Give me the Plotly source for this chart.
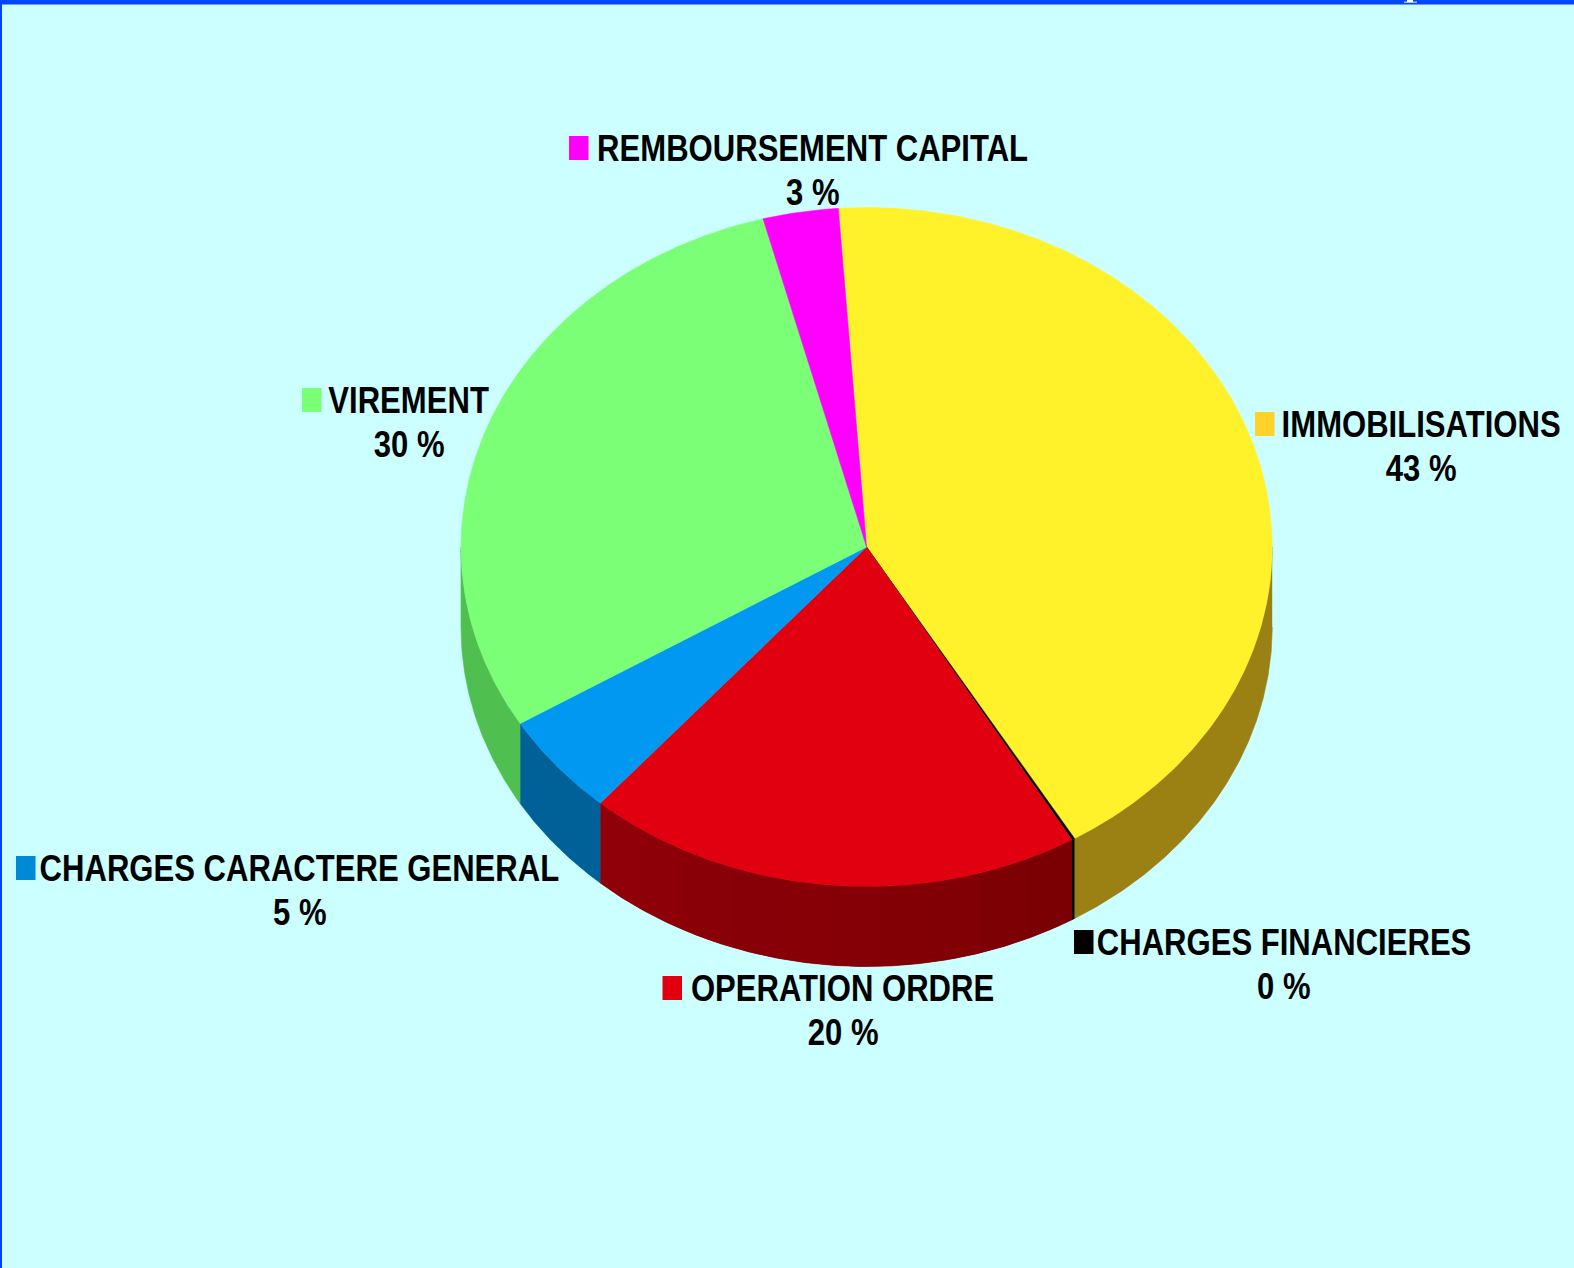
import numpy as np
import plotly.graph_objects as go

# ---- data (clockwise from the start angle) ----
categories = ["IMMOBILISATIONS", "CHARGES FINANCIERES", "OPERATION ORDRE",
              "CHARGES CARACTERE GENERAL", "VIREMENT", "REMBOURSEMENT CAPITAL"]
shares = [42.55, 0.12, 19.85, 4.9, 29.6, 3.0]
percent_labels = ["43 %", "0 %", "20 %", "5 %", "30 %", "3 %"]

# ---- styles ----
top_colors = ["#FFF22B", "#000000", "#E1000F", "#0098F0", "#7BFF77", "#FF00FF"]
# wall shading: colour at the clockwise start and end of each slice
wall_start = [(155, 128, 20), (0, 0, 0), (122, 0, 4), (0, 97, 153), (79, 191, 79), (153, 0, 153)]
wall_end = [(155, 128, 20), (0, 0, 0), (144, 0, 8), (0, 97, 153), (79, 191, 79), (153, 0, 153)]
key_colors = ["#FFD22A", "#000000", "#E1000F", "#0089D6", "#7BFF77", "#FF00FF"]
BG = "#CCFFFF"
BORDER = "#0045FF"
FONT = "Liberation Sans"
W, H = 1574, 1268

# ---- geometry of the tilted pie, in page pixels ----
CX, CY, RX, RY, DEPTH = 866.6, 547.0, 405.6, 339.5, 80.0
START = -4.0
# text centre x, first line centre y, key left x
LABEL_POS = [(1421.4, 424, 1255), (1284, 942, 1074), (842.7, 988, 662.5),
             (299.6, 868, 16), (409, 400, 302), (812.6, 148, 569)]


def ell(a, dy=0.0):
    r = np.radians(a)
    return CX + RX * np.sin(r), CY - RY * np.cos(r) + dy


def wall_poly(a0, a1, col, width):
    t = np.linspace(a0, a1, max(int((a1 - a0) * 3), 2))
    xt, yt = ell(t)
    xb, yb = ell(t[::-1], DEPTH)
    fig.add_trace(go.Scatter(x=np.r_[xt, xb], y=np.r_[yt, yb], mode="lines", fill="toself",
                             fillcolor=col, line=dict(color=col, width=width),
                             hoverinfo="skip", showlegend=False))


fig = go.Figure()
total = sum(shares)
edges = START + np.cumsum([0] + shares) / total * 360.0

# side wall: only the front part (90..270 degrees) is visible
for i in range(len(shares)):
    a0, a1 = max(edges[i], 90.0), min(edges[i + 1], 270.0)
    if a1 <= a0:
        continue
    mid = tuple(round((s + e) / 2) for s, e in zip(wall_start[i], wall_end[i]))
    wall_poly(a0, a1, f"rgb({mid[0]},{mid[1]},{mid[2]})", 0.6)
    if wall_start[i] != wall_end[i]:
        bands = 10
        cuts = np.linspace(a0, a1, bands + 1)
        for b in range(bands):
            f = (b + 0.5) / bands
            c = tuple(round(s + (e - s) * f) for s, e in zip(wall_start[i], wall_end[i]))
            wall_poly(cuts[b], cuts[b + 1], f"rgb({c[0]},{c[1]},{c[2]})", 0)

# top face
for i in range(len(shares)):
    t = np.linspace(edges[i], edges[i + 1], max(int((edges[i + 1] - edges[i]) * 3), 2))
    x, y = ell(t)
    fig.add_trace(go.Scatter(x=np.r_[CX, x, CX], y=np.r_[CY, y, CY], mode="lines", fill="toself",
                             fillcolor=top_colors[i],
                             line=dict(color=top_colors[i], width=0.5),
                             name=categories[i], hoverinfo="skip", showlegend=False))

annotations = []
shapes = []
for cat, pct, col, (tx, ty, kx) in zip(categories, percent_labels, key_colors, LABEL_POS):
    for txt, yy in ((cat, ty), (pct, ty + 44.5)):
        annotations.append(dict(x=tx, y=yy, text=f"<b>{txt}</b>", showarrow=False, xanchor="center",
                                yanchor="middle", xref="x", yref="y",
                                font=dict(family=FONT, size=37, color="#000000")))
    shapes.append(dict(type="rect", x0=kx, x1=kx + 19.5, y0=ty - 12, y1=ty + 12, xref="x", yref="y",
                       fillcolor=col, line=dict(width=0), layer="above"))

# page frame
shapes.append(dict(type="rect", x0=0, x1=W, y0=0, y1=4.5, xref="x", yref="y", fillcolor=BORDER, line=dict(width=0)))
shapes.append(dict(type="rect", x0=0, x1=2, y0=0, y1=H, xref="x", yref="y", fillcolor=BORDER, line=dict(width=0)))
# sliver of a cut-off white glyph on the top band
shapes.append(dict(type="rect", x0=1404, x1=1417, y0=1.6, y1=2.8, xref="x", yref="y", fillcolor="#C8D8FF", line=dict(width=0)))
shapes.append(dict(type="rect", x0=1407, x1=1413, y0=0, y1=2.2, xref="x", yref="y", fillcolor="#FFFFFF", line=dict(width=0)))

fig.update_layout(
    width=W, height=H, margin=dict(l=0, r=0, t=0, b=0), autosize=False,
    paper_bgcolor=BG, plot_bgcolor=BG, showlegend=False,
    xaxis=dict(range=[0, W], visible=False, fixedrange=True),
    yaxis=dict(range=[H, 0], visible=False, fixedrange=True),
    annotations=annotations, shapes=shapes,
)
# page without body margin; labels squeezed to the narrow face of the reference
POST = """
document.documentElement.style.overflow='hidden';
document.body.style.margin='0';
document.querySelectorAll('.annotation-text').forEach(function(t){
  t.style.transformBox='fill-box';
  t.style.transformOrigin='center';
  t.style.transform='scaleX(0.84)';
});
"""
fig.write_html("out.html", config=dict(displayModeBar=False),
               default_width=W, default_height=H, post_script=POST)
